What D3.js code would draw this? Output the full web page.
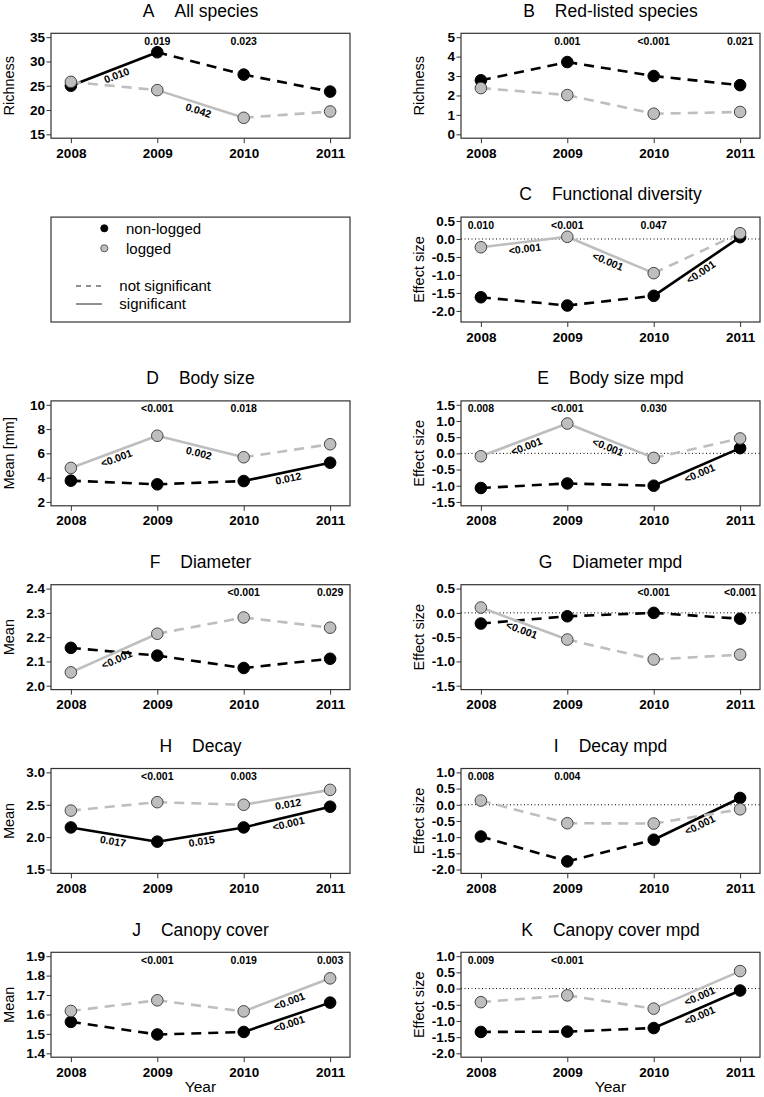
<!DOCTYPE html>
<html><head><meta charset="utf-8">
<script src="https://cdn.jsdelivr.net/npm/d3@7"></script>
<style>body{margin:0;background:#fff}</style>
</head><body><svg id="chart" width="764" height="1097"></svg>
<script>
// ---------------- data ----------------
const years = [2008, 2009, 2010, 2011];
const panelLetters = ["A","B","C","D","E","F","G","H","I","J","K"];
const panelTitles = ["All species","Red-listed species","Functional diversity","Body size","Body size mpd","Diameter","Diameter mpd","Decay","Decay mpd","Canopy cover","Canopy cover mpd"];
const yTitles = ["Richness","Richness","Effect size","Mean [mm]","Effect size","Mean","Effect size","Mean","Effect size","Mean","Effect size"];
const yLimits = [[15,35],[0,5],[-2.2,0.5],[2,10],[-1.5,1.5],[2.0,2.4],[-1.5,0.5],[1.5,3.0],[-2,1],[1.4,1.9],[-2,1]];
const yTickValues = [
  [15,20,25,30,35],
  [0,1,2,3,4,5],
  [-2,-1.5,-1,-0.5,0,0.5],
  [2,4,6,8,10],
  [-1.5,-1,-0.5,0,0.5,1,1.5],
  [2.0,2.1,2.2,2.3,2.4],
  [-1.5,-1,-0.5,0,0.5],
  [1.5,2,2.5,3],
  [-2,-1.5,-1,-0.5,0,0.5,1],
  [1.4,1.5,1.6,1.7,1.8,1.9],
  [-2,-1.5,-1,-0.5,0,0.5,1]
];
const yTickDecimals = [0,0,1,0,1,1,1,1,1,1,1];
const showZeroLine = [false,false,true,false,true,false,true,false,true,false,true];

const nonLogged = [
  [25.0, 31.9, 27.3, 23.8],
  [2.78, 3.72, 3.0, 2.53],
  [-1.62, -1.85, -1.58, 0.05],
  [3.75, 3.45, 3.72, 5.23],
  [-1.07, -0.93, -1.0, 0.16],
  [2.156, 2.124, 2.073, 2.111],
  [-0.22, -0.07, 0.0, -0.12],
  [2.15, 1.93, 2.15, 2.47],
  [-0.98, -1.75, -1.08, 0.21],
  [1.562, 1.497, 1.51, 1.661],
  [-1.34, -1.33, -1.22, -0.06]
];
const logged = [
  [25.8, 24.1, 18.4, 19.7],
  [2.38, 2.02, 1.06, 1.15],
  [-0.23, 0.06, -0.95, 0.16],
  [4.8, 7.45, 5.68, 6.75],
  [-0.09, 0.92, -0.14, 0.46],
  [2.055, 2.214, 2.281, 2.239],
  [0.11, -0.55, -0.96, -0.86],
  [2.41, 2.54, 2.5, 2.73],
  [0.13, -0.57, -0.58, -0.14],
  [1.618, 1.673, 1.616, 1.786],
  [-0.42, -0.21, -0.62, 0.54]
];
// 1 = significant change between consecutive years (solid), 0 = not significant (dashed)
const nonLoggedSignificant = [
  [1,0,0],[0,0,0],[0,0,1],[0,0,1],[0,0,1],[0,0,0],[0,0,0],[1,1,1],[0,0,1],[0,0,1],[0,0,1]
];
const loggedSignificant = [
  [0,1,0],[0,0,0],[1,1,0],[1,1,0],[1,1,0],[1,0,0],[1,0,0],[0,0,1],[0,0,0],[0,0,1],[0,0,1]
];
const yearPValues = [
  ["","0.019","0.023",""],
  ["","0.001","<0.001","0.021"],
  ["0.010","<0.001","0.047",""],
  ["","<0.001","0.018",""],
  ["0.008","<0.001","0.030",""],
  ["","","<0.001","0.029"],
  ["","","<0.001","<0.001"],
  ["","<0.001","0.003",""],
  ["0.008","0.004","",""],
  ["","<0.001","0.019","0.003"],
  ["0.009","<0.001","",""]
];
const nonLoggedSegmentP = [
  ["0.010","",""],["","",""],["","","<0.001"],["","","0.012"],["","","<0.001"],
  ["","",""],["","",""],["0.017","0.015","<0.001"],["","","<0.001"],["","","<0.001"],["","","<0.001"]
];
const loggedSegmentP = [
  ["","0.042",""],["","",""],["<0.001","<0.001",""],["<0.001","0.002",""],["<0.001","<0.001",""],
  ["<0.001","",""],["<0.001","",""],["","","0.012"],["","",""],["","","<0.001"],["","","<0.001"]
];
const seriesNames = ["non-logged","logged"];
const significanceNames = ["not significant","significant"];
const xTitle = "Year";

// ---------------- layout / style ----------------
const FONT = "'Liberation Sans', Arial, Helvetica, sans-serif";
const GREY = "#bebebe";
const DASH = "10,7";
const rowH = 183.8;
const boxTopRel = 33.3, boxBotRel = 138.2;
const colX = [[51, 350], [461, 760]];
// panel slot (row, col) for each panel; legend occupies row 1 col 0
const slots = [[0,0],[0,1],[1,1],[2,0],[2,1],[3,0],[3,1],[4,0],[4,1],[5,0],[5,1]];

const svg = d3.select("#chart").style("font-family", FONT);

function drawPanel(i) {
  const [row, col] = slots[i];
  const [x0, x1] = colX[col];
  const top = row * rowH + boxTopRel, bot = row * rowH + boxBotRel;
  const [lo, hi] = yLimits[i];
  const ext = 0.04 * (hi - lo);
  const x = d3.scaleLinear().domain([2007.77, 2011.23]).range([x0, x1]);
  const y = d3.scaleLinear().domain([lo - ext, hi + ext]).range([bot, top]);
  const g = svg.append("g");

  // title
  const t = g.append("text").attr("x", (x0 + x1) / 2).attr("y", row * rowH + 16.5)
    .attr("text-anchor", "middle").attr("font-size", 17.5).attr("fill", "#000");
  t.append("tspan").text(panelLetters[i]);
  t.append("tspan").attr("dx", 20).text(panelTitles[i]);

  // zero line
  if (showZeroLine[i]) {
    g.append("line").attr("x1", x0).attr("x2", x1).attr("y1", y(0)).attr("y2", y(0))
      .attr("stroke", "#000").attr("stroke-width", 1).attr("stroke-dasharray", "1,2.5");
  }

  // axes
  const base = d3.format("." + yTickDecimals[i] + "f");
  const fmt = v => base(v).replace("\u2212", "-");
  const ya = g.append("g").attr("transform", `translate(${x0},0)`)
    .call(d3.axisLeft(y).tickValues(yTickValues[i]).tickFormat(fmt).tickSize(4.5).tickPadding(1.5));
  const xa = g.append("g").attr("transform", `translate(0,${bot})`)
    .call(d3.axisBottom(x).tickValues(years).tickFormat(d3.format("d")).tickSize(5).tickPadding(5));
  [ya, xa].forEach(a => {
    a.select(".domain").remove();
    a.selectAll(".tick line").attr("stroke", "#333");
    a.selectAll(".tick text").attr("font-family", FONT).attr("font-size", 13.5)
      .attr("font-weight", "bold").attr("fill", "#000");
  });

  // y title
  g.append("text").attr("transform", `translate(${x0 - 42},${(top + bot) / 2}) rotate(-90)`)
    .attr("text-anchor", "middle").attr("dy", "0.35em").attr("font-size", 14.5).attr("fill", "#000")
    .text(yTitles[i]);

  if (row === 5) {
    g.append("text").attr("x", (x0 + x1) / 2).attr("y", row * rowH + 173)
      .attr("text-anchor", "middle").attr("font-size", 15.5).attr("fill", "#000").text(xTitle);
  }

  // series
  const series = [
    {vals: nonLogged[i], sig: nonLoggedSignificant[i], segP: nonLoggedSegmentP[i], col: "#000", fill: "#000"},
    {vals: logged[i], sig: loggedSignificant[i], segP: loggedSegmentP[i], col: GREY, fill: GREY}
  ];
  series.forEach(s => {
    d3.pairs(years.map((yr, k) => [x(yr), y(s.vals[k])])).forEach(([a, b], k) => {
      g.append("line").attr("x1", a[0]).attr("y1", a[1]).attr("x2", b[0]).attr("y2", b[1])
        .attr("stroke", s.col).attr("stroke-width", 2.6)
        .attr("stroke-dasharray", s.sig[k] ? null : DASH);
    });
  });
  series.forEach(s => {
    g.selectAll(null).data(years).enter().append("circle")
      .attr("cx", d => x(d)).attr("cy", (d, k) => y(s.vals[k])).attr("r", 5.8)
      .attr("fill", s.fill).attr("stroke", s.fill === "#000" ? "#000" : "#444").attr("stroke-width", 1);
  });
  // segment p labels
  series.forEach(s => {
    s.segP.forEach((p, k) => {
      if (!p) return;
      const ax = x(years[k]), ay = y(s.vals[k]), bx = x(years[k + 1]), by = y(s.vals[k + 1]);
      const ang = Math.atan2(by - ay, bx - ax) * 180 / Math.PI;
      g.append("text").attr("transform", `translate(${(ax + bx) / 2},${(ay + by) / 2}) rotate(${ang})`)
        .attr("y", 10.5).attr("text-anchor", "middle").attr("font-size", 10.5).attr("font-weight", "bold")
        .attr("fill", "#000").text(p);
    });
  });
  // year p labels
  yearPValues[i].forEach((p, k) => {
    if (!p) return;
    g.append("text").attr("x", x(years[k])).attr("y", row * rowH + 44.8).attr("text-anchor", "middle")
      .attr("font-size", 10.5).attr("font-weight", "bold").attr("fill", "#000").text(p);
  });

  // box
  g.append("rect").attr("x", x0).attr("y", top).attr("width", x1 - x0).attr("height", bot - top)
    .attr("fill", "none").attr("stroke", "#333").attr("stroke-width", 1.2);
}

panelLetters.forEach((_, i) => drawPanel(i));

// legend
(function () {
  const off = 1 * rowH;
  const [x0, x1] = colX[0];
  const lg = svg.append("g");
  lg.append("rect").attr("x", x0).attr("y", off + boxTopRel).attr("width", x1 - x0)
    .attr("height", boxBotRel - boxTopRel).attr("fill", "none").attr("stroke", "#333").attr("stroke-width", 1.2);
  const fills = ["#000", GREY];
  seriesNames.forEach((n, k) => {
    const yy = off + 44.5 + k * 20;
    lg.append("circle").attr("cx", 104.3).attr("cy", yy).attr("r", 3.6)
      .attr("fill", fills[k]).attr("stroke", k ? "#444" : "#000").attr("stroke-width", 0.8);
    lg.append("text").attr("x", 126).attr("y", yy).attr("dy", "0.35em").attr("font-size", 15)
      .attr("fill", "#000").text(n);
  });
  significanceNames.forEach((n, k) => {
    const yy = off + 102.2 + k * 18;
    lg.append("line").attr("x1", 76).attr("x2", 102).attr("y1", yy).attr("y2", yy)
      .attr("stroke", "#222").attr("stroke-width", 1).attr("stroke-dasharray", k ? null : "5,5");
    lg.append("text").attr("x", 119.3).attr("y", yy).attr("dy", "0.35em").attr("font-size", 15)
      .attr("fill", "#000").text(n);
  });
})();
</script>
</body></html>
